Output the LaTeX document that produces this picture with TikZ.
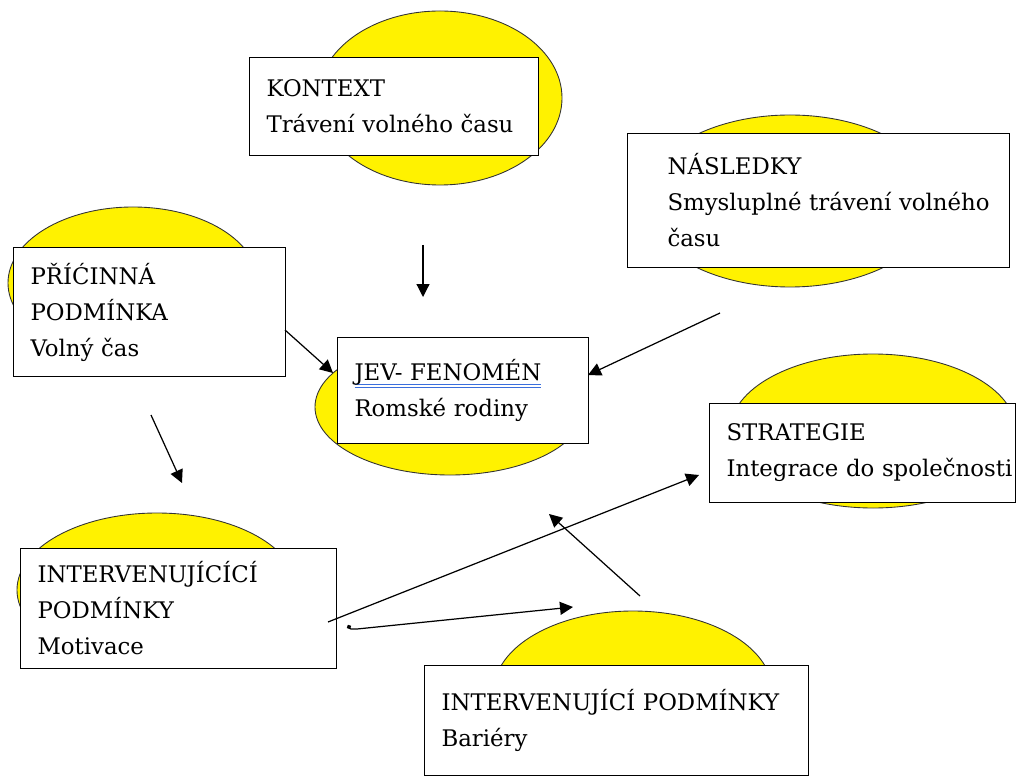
\documentclass[tikz,border=0pt]{standalone}
\usepackage{fontspec}
\setmainfont{DejaVu Serif}
\usetikzlibrary{arrows.meta}
\definecolor{ulblue}{RGB}{58,110,220}
\newcommand{\px}{0.02cm}
\newlength{\ulwd}
% blue double underline, as under the phenomenon title
\newcommand{\blueul}[1]{\settowidth{\ulwd}{#1}%
  \rlap{\textcolor{ulblue}{\rule[-2.6pt]{\ulwd}{0.5pt}}}%
  \rlap{\textcolor{ulblue}{\rule[-3.9pt]{\ulwd}{0.5pt}}}#1}
\tikzset{
  % yellow oval lying behind a box
  blob/.style  = {draw=black!80, fill=yellow, line width=0.5pt},
  % white text box
  tbox/.style  = {draw=black, fill=white, line width=0.6pt, anchor=north west,
                  align=left, inner xsep=17*\px, inner ysep=0pt,
                  font=\fontsize{13}{20.5}\selectfont},
  % plain arrow between parts
  link/.style  = {line width=0.7pt, -{Triangle[length=0.26cm,width=0.26cm]}},
}

\begin{document}
\begin{tikzpicture}[x=0.02cm, y=-0.02cm]
  \useasboundingbox (0,0) rectangle (1016,776);

  % ovals
  \draw[blob] (440,98) ellipse [x radius=122, y radius=87];
  \draw[blob] (133,283) ellipse [x radius=125, y radius=76];
  \draw[blob] (450,407) ellipse [x radius=135, y radius=68];
  \draw[blob] (790,201) ellipse [x radius=147, y radius=86];
  \draw[blob] (873,431) ellipse [x radius=143, y radius=77];
  \draw[blob] (157,590) ellipse [x radius=140, y radius=77];
  \draw[blob] (633,691) ellipse [x radius=139, y radius=80];

  % boxes
  \node[tbox, text width=255*\px, minimum height=98*\px] (kontext) at (249,57)
    {KONTEXT\\Trávení volného času};
  \node[tbox, text width=238*\px, minimum height=129*\px] (pricina) at (13,247)
    {PŘÍĆINNÁ\\PODMÍNKA\\Volný čas};
  \node[tbox, text width=217*\px, minimum height=106*\px] (jev) at (337,337)
    {\blueul{JEV- FENOMÉN}\\Romské rodiny};
  \node[tbox, inner xsep=40*\px, text width=302*\px, minimum height=134*\px] (nasledky) at (627,133)
    {NÁSLEDKY\\\mbox{Smysluplné trávení volného}\\času};
  \node[tbox, text width=272*\px, minimum height=99*\px] (strategie) at (709,403)
    {STRATEGIE\\\mbox{Integrace do společnosti}};
  \node[tbox, text width=282*\px, minimum height=120*\px] (motivace) at (20,548)
    {INTERVENUJÍCÍCÍ\\PODMÍNKY\\Motivace};
  \node[tbox, text width=350*\px, minimum height=110*\px] (bariery) at (424,665)
    {\mbox{INTERVENUJÍCÍ PODMÍNKY}\\Bariéry};

  % loose ends of the arrows
  \coordinate (k0) at (423,245);   \coordinate (k1) at (423,297);
  \coordinate (p0) at (285,330);   \coordinate (p1) at (333,373);
  \coordinate (n0) at (720,313);   \coordinate (n1) at (588,375);
  \coordinate (d0) at (151,415);   \coordinate (d1) at (182,483);
  \coordinate (s0) at (328,622);   \coordinate (s1) at (699,475);
  \coordinate (b0) at (348,625);   \coordinate (b1) at (573,607);
  \coordinate (g0) at (640,596);   \coordinate (g1) at (549,514);

  % arrows
  \draw[link] (k0) -- (k1);
  \draw[link] (p0) -- (p1);
  \draw[link] (n0) -- (n1);
  \draw[link] (d0) -- (d1);
  \draw[link] (s0) -- (s1);
  \draw[link, {Circle[length=2.5pt]}-{Triangle[length=0.26cm,width=0.26cm]}]
    (b0) .. controls (350,629) .. (357,629) -- (b1);
  \draw[link] (g0) -- (g1);
\end{tikzpicture}
\end{document}
